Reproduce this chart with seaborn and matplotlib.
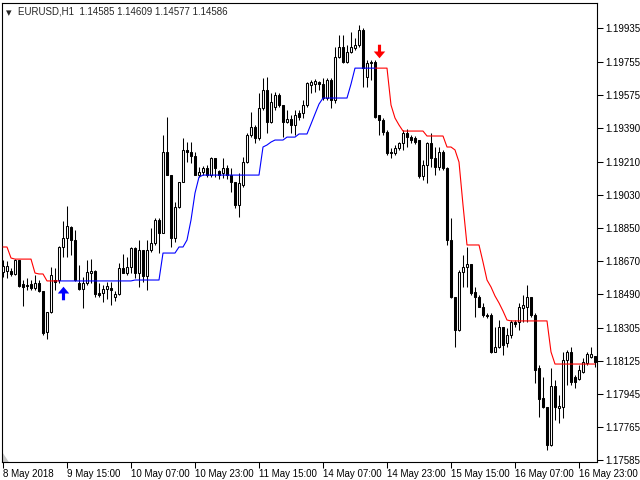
import matplotlib

matplotlib.use("Agg")
import matplotlib.pyplot as plt
from matplotlib.path import Path
import numpy as np
import pandas as pd
import seaborn as sns

# --- EURUSD H1 candles (149 bars, 8 May 23:00 .. 17 May 2018) ---
opens = [
    1.18608, 1.18613, 1.18613, 1.18597, 1.18673, 1.18542, 1.18537, 1.18542, 1.18520, 1.18548,
    1.18504, 1.18281, 1.18390, 1.18564, 1.18564, 1.18744, 1.18793, 1.18853, 1.18782, 1.18548,
    1.18515, 1.18548, 1.18602, 1.18613, 1.18493, 1.18493, 1.18515, 1.18520, 1.18471, 1.18488,
    1.18629, 1.18602, 1.18635, 1.18738, 1.18602, 1.18728, 1.18586, 1.18728, 1.18766, 1.18891,
    1.18820, 1.19262, 1.19136, 1.18793, 1.18962, 1.19098, 1.19273, 1.19262, 1.19240, 1.19136,
    1.19153, 1.19174, 1.19136, 1.19229, 1.19158, 1.19147, 1.19174, 1.19136, 1.19098, 1.18973,
    1.19082, 1.19207, 1.19354, 1.19398, 1.19338, 1.19501, 1.19600, 1.19425, 1.19507, 1.19572,
    1.19518, 1.19425, 1.19441, 1.19409, 1.19474, 1.19474, 1.19518, 1.19627, 1.19632, 1.19643,
    1.19632, 1.19556, 1.19654, 1.19545, 1.19779, 1.19834, 1.19752, 1.19807, 1.19828, 1.19845,
    1.19927, 1.19670, 1.19747, 1.19752, 1.19463, 1.19436, 1.19371, 1.19262, 1.19256, 1.19283,
    1.19311, 1.19365, 1.19343, 1.19338, 1.19327, 1.19131, 1.19191, 1.19311, 1.19229, 1.19180,
    1.19262, 1.19174, 1.18782, 1.18471, 1.18292, 1.18608, 1.18635, 1.18651, 1.18499, 1.18471,
    1.18417, 1.18373, 1.18373, 1.18172, 1.18199, 1.18308, 1.18221, 1.18264, 1.18335, 1.18335,
    1.18411, 1.18417, 1.18471, 1.18373, 1.18084, 1.17921, 1.17872, 1.17665, 1.17986, 1.17866,
    1.17872, 1.18128, 1.18172, 1.18035, 1.18024, 1.18063, 1.18112, 1.18144, 1.18150,
]
highs = [
    1.18673, 1.18668, 1.18629, 1.18678, 1.18673, 1.18564, 1.18575, 1.18564, 1.18591, 1.18564,
    1.18504, 1.18390, 1.18635, 1.18629, 1.18749, 1.18886, 1.18967, 1.18858, 1.18837, 1.18646,
    1.18580, 1.18673, 1.18678, 1.18619, 1.18548, 1.18537, 1.18553, 1.18553, 1.18504, 1.18657,
    1.18706, 1.18689, 1.18744, 1.18744, 1.18782, 1.18728, 1.18782, 1.18847, 1.18902, 1.18902,
    1.19354, 1.19452, 1.19136, 1.18989, 1.19098, 1.19338, 1.19316, 1.19316, 1.19262, 1.19180,
    1.19185, 1.19191, 1.19234, 1.19229, 1.19164, 1.19229, 1.19191, 1.19174, 1.19098, 1.19147,
    1.19234, 1.19365, 1.19480, 1.19409, 1.19583, 1.19665, 1.19670, 1.19583, 1.19589, 1.19583,
    1.19518, 1.19491, 1.19463, 1.19491, 1.19491, 1.19545, 1.19643, 1.19654, 1.19659, 1.19649,
    1.19665, 1.19665, 1.19665, 1.19834, 1.19899, 1.19899, 1.19845, 1.19916, 1.19883, 1.19954,
    1.19937, 1.19763, 1.19763, 1.19763, 1.19463, 1.19447, 1.19382, 1.19283, 1.19300, 1.19316,
    1.19382, 1.19387, 1.19354, 1.19349, 1.19327, 1.19218, 1.19316, 1.19365, 1.19289, 1.19289,
    1.19273, 1.19180, 1.18902, 1.18471, 1.18619, 1.18700, 1.18744, 1.18651, 1.18526, 1.18482,
    1.18439, 1.18384, 1.18384, 1.18308, 1.18346, 1.18308, 1.18302, 1.18346, 1.18346, 1.18439,
    1.18482, 1.18537, 1.18471, 1.18384, 1.18101, 1.18035, 1.17872, 1.18084, 1.18019, 1.17937,
    1.18172, 1.18182, 1.18199, 1.18046, 1.18101, 1.18139, 1.18172, 1.18199, 1.18150,
]
lows = [
    1.18580, 1.18575, 1.18586, 1.18591, 1.18526, 1.18422, 1.18510, 1.18510, 1.18510, 1.18499,
    1.18264, 1.18242, 1.18384, 1.18510, 1.18548, 1.18689, 1.18689, 1.18700, 1.18559, 1.18510,
    1.18411, 1.18537, 1.18548, 1.18471, 1.18471, 1.18444, 1.18460, 1.18428, 1.18450, 1.18482,
    1.18602, 1.18591, 1.18602, 1.18575, 1.18526, 1.18553, 1.18510, 1.18717, 1.18755, 1.18711,
    1.18820, 1.19136, 1.18744, 1.18771, 1.18956, 1.19098, 1.19207, 1.19202, 1.19136, 1.19125,
    1.19136, 1.19125, 1.19125, 1.19125, 1.19114, 1.19120, 1.19114, 1.19044, 1.18956, 1.18907,
    1.19071, 1.19202, 1.19343, 1.19311, 1.19327, 1.19491, 1.19365, 1.19420, 1.19491, 1.19507,
    1.19343, 1.19420, 1.19365, 1.19354, 1.19436, 1.19447, 1.19507, 1.19583, 1.19589, 1.19600,
    1.19545, 1.19545, 1.19501, 1.19529, 1.19774, 1.19747, 1.19747, 1.19801, 1.19818, 1.19834,
    1.19616, 1.19616, 1.19654, 1.19447, 1.19354, 1.19354, 1.19245, 1.19229, 1.19245, 1.19273,
    1.19273, 1.19289, 1.19311, 1.19305, 1.19120, 1.19109, 1.19093, 1.19180, 1.19136, 1.19164,
    1.19164, 1.18755, 1.18466, 1.18199, 1.18286, 1.18526, 1.18526, 1.18482, 1.18362, 1.18417,
    1.18362, 1.18357, 1.18166, 1.18172, 1.18193, 1.18155, 1.18199, 1.18248, 1.18308, 1.18292,
    1.18335, 1.18335, 1.18362, 1.18003, 1.17817, 1.17866, 1.17638, 1.17659, 1.17801, 1.17785,
    1.17812, 1.17992, 1.17992, 1.17975, 1.18019, 1.18057, 1.18101, 1.18139, 1.18090,
]
closes = [
    1.18640, 1.18640, 1.18597, 1.18673, 1.18531, 1.18526, 1.18531, 1.18520, 1.18548, 1.18504,
    1.18275, 1.18390, 1.18591, 1.18553, 1.18744, 1.18793, 1.18858, 1.18782, 1.18564, 1.18515,
    1.18548, 1.18608, 1.18613, 1.18488, 1.18482, 1.18515, 1.18531, 1.18510, 1.18488, 1.18629,
    1.18602, 1.18635, 1.18738, 1.18602, 1.18728, 1.18586, 1.18728, 1.18766, 1.18891, 1.18820,
    1.19262, 1.19136, 1.18793, 1.18962, 1.19098, 1.19273, 1.19262, 1.19240, 1.19136, 1.19153,
    1.19174, 1.19136, 1.19229, 1.19174, 1.19136, 1.19174, 1.19136, 1.19098, 1.18973, 1.19093,
    1.19207, 1.19354, 1.19398, 1.19338, 1.19501, 1.19600, 1.19425, 1.19534, 1.19572, 1.19518,
    1.19425, 1.19441, 1.19409, 1.19463, 1.19452, 1.19518, 1.19638, 1.19643, 1.19649, 1.19632,
    1.19556, 1.19654, 1.19545, 1.19779, 1.19834, 1.19752, 1.19807, 1.19834, 1.19845, 1.19927,
    1.19719, 1.19747, 1.19752, 1.19452, 1.19436, 1.19371, 1.19256, 1.19256, 1.19283, 1.19311,
    1.19365, 1.19343, 1.19327, 1.19316, 1.19131, 1.19191, 1.19311, 1.19229, 1.19180, 1.19262,
    1.19174, 1.18782, 1.18471, 1.18292, 1.18608, 1.18635, 1.18651, 1.18493, 1.18471, 1.18417,
    1.18373, 1.18368, 1.18172, 1.18199, 1.18308, 1.18210, 1.18264, 1.18335, 1.18324, 1.18417,
    1.18428, 1.18471, 1.18373, 1.18074, 1.17915, 1.17872, 1.17665, 1.17986, 1.17872, 1.17877,
    1.18128, 1.18172, 1.18008, 1.18008, 1.18074, 1.18117, 1.18161, 1.18161, 1.18117,
]

# --- trailing stop indicator, three runs (down / up / down) ---
trail_dn_a = [
    1.18744, 1.18744, 1.18684, 1.18678, 1.18678, 1.18678, 1.18678, 1.18678, 1.18602, 1.18597,
    1.18597, 1.18559, 1.18559, 1.18559, 1.18559,
]
trail_up = [
    1.18559, 1.18559, 1.18559, 1.18559, 1.18559, 1.18559, 1.18559, 1.18559, 1.18559, 1.18559,
    1.18559, 1.18559, 1.18559, 1.18559, 1.18559, 1.18559, 1.18559, 1.18559, 1.18559, 1.18564,
    1.18564, 1.18564, 1.18564, 1.18564, 1.18564, 1.18564, 1.18711, 1.18711, 1.18711, 1.18711,
    1.18744, 1.18744, 1.18782, 1.18891, 1.19038, 1.19125, 1.19136, 1.19136, 1.19136, 1.19136,
    1.19136, 1.19136, 1.19136, 1.19136, 1.19136, 1.19136, 1.19136, 1.19136, 1.19136, 1.19136,
    1.19136, 1.19289, 1.19300, 1.19316, 1.19327, 1.19327, 1.19327, 1.19343, 1.19343, 1.19343,
    1.19360, 1.19360, 1.19360, 1.19414, 1.19469, 1.19523, 1.19556, 1.19556, 1.19556, 1.19556,
    1.19556, 1.19556, 1.19556, 1.19632, 1.19719, 1.19719, 1.19719, 1.19719, 1.19719, 1.19719,
]
trail_dn_b = [
    1.19719, 1.19719, 1.19719, 1.19719, 1.19518, 1.19447, 1.19409, 1.19376, 1.19376, 1.19376,
    1.19376, 1.19376, 1.19376, 1.19349, 1.19349, 1.19349, 1.19349, 1.19349, 1.19289, 1.19289,
    1.19273, 1.19207, 1.18973, 1.18755, 1.18755, 1.18755, 1.18755, 1.18662, 1.18564, 1.18526,
    1.18477, 1.18439, 1.18395, 1.18346, 1.18341, 1.18341, 1.18341, 1.18341, 1.18341, 1.18341,
    1.18341, 1.18341, 1.18341, 1.18341, 1.18172, 1.18106, 1.18106, 1.18106, 1.18106, 1.18106,
    1.18106, 1.18106, 1.18106, 1.18106, 1.18106, 1.18106,
]
trail_starts = [0, 14, 93]
trail_trend = ["down", "up", "down"]

# --- signal arrows ---
buy_bar = [15]
buy_price = [1.18493]
sell_bar = [94]
sell_price = [1.19812]

# --- axis labels ---
time_label_bars = [0, 16, 32, 48, 64, 80, 96, 112, 128, 144]
time_labels = [
    "8 May 2018", "9 May 15:00", "10 May 07:00", "10 May 23:00", "11 May 15:00",
    "14 May 07:00", "14 May 23:00", "15 May 15:00", "16 May 07:00", "16 May 23:00",
]
price_ticks = [
    1.17585, 1.17765, 1.17945, 1.18125, 1.18305, 1.18490, 1.18670,
    1.18850, 1.19030, 1.19210, 1.19390, 1.19575, 1.19755, 1.19935,
]
header = "EURUSD,H1  1.14585 1.14609 1.14577 1.14586"

sns.set_style("white")
plt.rcParams["font.family"] = ["Liberation Sans", "DejaVu Sans"]

W, H = 640, 480
fig = plt.figure(figsize=(W / 100, H / 100), dpi=100, facecolor="white")
ax = fig.add_axes([2 / W, 18 / H, 595 / W, 459 / H])

bars = np.arange(len(closes))
o = np.asarray(opens)
c = np.asarray(closes)
up = c >= o

# wicks, then bodies on top
ax.vlines(bars, lows, highs, color="black", linewidth=0.75, zorder=2)
body_lo = np.minimum(o, c)
body_h = np.abs(c - o)
ax.bar(
    bars, body_h, bottom=body_lo, width=0.5,
    color=np.where(up, "white", "black"), edgecolor="black", linewidth=0.75, zorder=3,
)

# indicator line via seaborn
frames = []
for seg, (start, vals, trend) in enumerate(zip(trail_starts, [trail_dn_a, trail_up, trail_dn_b], trail_trend)):
    frames.append(pd.DataFrame({
        "bar": np.arange(start, start + len(vals)),
        "price": vals,
        "trend": trend,
        "seg": seg,
    }))
trail = pd.concat(frames, ignore_index=True)
sns.lineplot(
    data=trail, x="bar", y="price", hue="trend", units="seg", estimator=None,
    palette={"down": "#ff0000", "up": "#0000ff"}, linewidth=0.8, legend=False,
    ax=ax, zorder=4,
)

# arrows (wingdings-like)
up_arrow = Path([(-1.5, -6.5), (1.5, -6.5), (1.5, 0), (5.5, 0), (0, 6.5), (-5.5, 0), (-1.5, 0), (-1.5, -6.5)])
dn_arrow = Path([(x, -y) for x, y in up_arrow.vertices])
sns.scatterplot(x=buy_bar, y=buy_price, marker=up_arrow, s=95, color="#0000ff", linewidth=0, ax=ax, zorder=5)
sns.scatterplot(x=sell_bar, y=sell_price, marker=dn_arrow, s=95, color="#ff0000", linewidth=0, ax=ax, zorder=5)

ax.set_xlim(-0.25, 148.5)
ax.set_ylim(1.17572, 1.20074)
ax.set_xlabel("")
ax.set_ylabel("")

ax.yaxis.tick_right()
ax.set_yticks(price_ticks)
ax.set_yticklabels(["%.5f" % v for v in price_ticks])
ax.set_xticks(time_label_bars)
ax.set_xticklabels(time_labels, ha="left")
ax.tick_params(axis="both", which="major", labelsize=7, length=4, width=0.75,
               color="black", labelcolor="black", direction="out")
ax.tick_params(axis="y", pad=2, left=False, right=True)
ax.tick_params(axis="x", pad=1, bottom=True)
for sp in ax.spines.values():
    sp.set_visible(True)
    sp.set_color("black")
    sp.set_linewidth(0.8)

# header line and shift marker
ax.text(4 / 595, 1 - 5 / 459, "\u25be", transform=ax.transAxes, fontsize=8, va="top", ha="left",
        family="DejaVu Sans")
ax.text(16 / 595, 1 - 4 / 459, header, transform=ax.transAxes, fontsize=7, va="top", ha="left")
ax.fill([0, 0, 6 / 595], [0, 9 / 459, 0], transform=ax.transAxes, color="#c8c8c8", zorder=1)

fig.savefig("out.png", dpi=100, facecolor="white")
plt.close(fig)
